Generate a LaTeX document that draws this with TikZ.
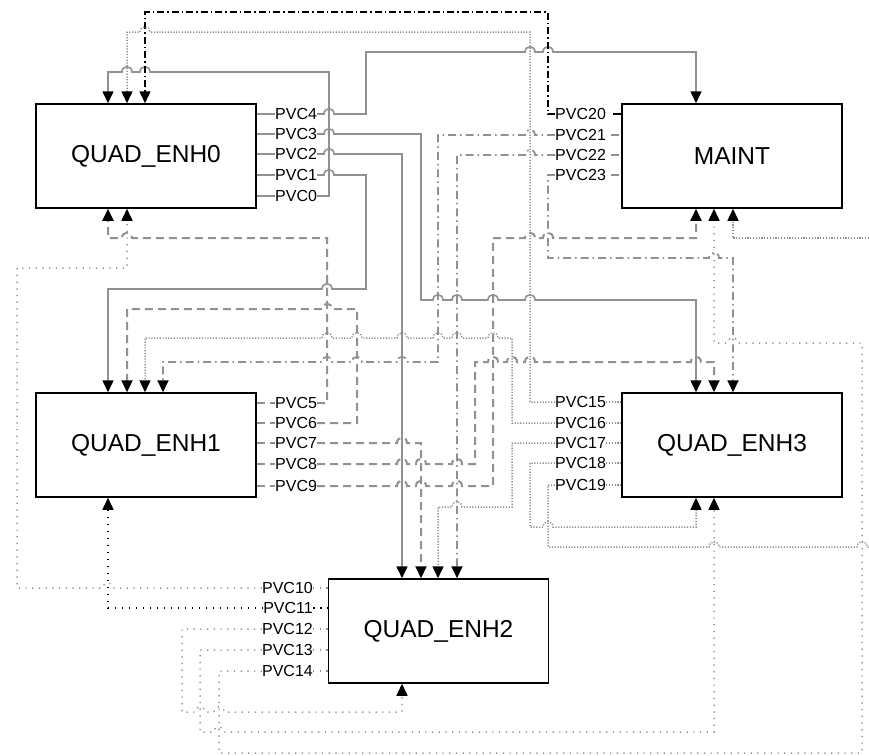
\documentclass[tikz,border=0pt]{standalone}
\usepackage{fontspec}
\setmainfont{Liberation Sans}
\usetikzlibrary{arrows.meta}
\definecolor{lg}{RGB}{145,145,145}
\newcommand{\hopR}[2]{-- ({#1-5},#2) .. controls ({#1-5},{#2-7}) and ({#1+5},{#2-7}) .. ({#1+5},#2)}
\newcommand{\hopL}[2]{-- ({#1+5},#2) .. controls ({#1+5},{#2-7}) and ({#1-5},{#2-7}) .. ({#1-5},#2)}
\begin{document}
\begin{tikzpicture}[x=1pt,y=-1pt,
  box/.style={draw=black,line width=1.5pt,minimum width=220pt,minimum height=104pt,inner sep=0pt,font=\fontsize{24.5}{26}\selectfont},
  lab/.style={inner sep=0pt,font=\fontsize{16}{17}\selectfont},
  tip/.style={-{Triangle[length=12pt,width=11pt,color=black]}},
  sol/.style={draw=lg,line width=1.6pt},
  dsh/.style={draw=lg,line width=2pt,dash pattern=on 8pt off 5pt},
  dashdotg/.style={draw=lg,line width=1.8pt,dash pattern=on 8pt off 4pt on 1.5pt off 4pt},
  dashdotk/.style={draw=black,line width=1.5pt,dash pattern=on 7pt off 3pt on 1.5pt off 3pt},
  dotd/.style={draw=lg,line width=1.5pt,dash pattern=on 1.2pt off 1.6pt},
  dots/.style={draw=lg,line width=1.5pt,dash pattern=on 1.2pt off 5.5pt},
  dotk/.style={draw=black,line width=1.5pt,dash pattern=on 1.5pt off 5.5pt},
  kline/.style={draw=black,line width=1.5pt}]
\useasboundingbox (0,0) rectangle (869,755);
% boxes
\node[box] (q0) at (146,156) {QUAD\_ENH0};
\node[box] (mt) at (732,156) {MAINT};
\node[box] (q1) at (146,445) {QUAD\_ENH1};
\node[box] (q3) at (732,445) {QUAD\_ENH3};
\node[box] (q2) at (438.5,631) {QUAD\_ENH2};
% labels ENH0
\node[lab,anchor=west] (p4) at (275,114) {PVC4};
\node[lab,anchor=west] (p3) at (275,134) {PVC3};
\node[lab,anchor=west] (p2) at (275,154) {PVC2};
\node[lab,anchor=west] (p1) at (275,175) {PVC1};
\node[lab,anchor=west] (p0) at (275,196) {PVC0};
% labels ENH1
\node[lab,anchor=west] (p5) at (275,403) {PVC5};
\node[lab,anchor=west] (p6) at (275,423) {PVC6};
\node[lab,anchor=west] (p7) at (275,443) {PVC7};
\node[lab,anchor=west] (p8) at (275,464) {PVC8};
\node[lab,anchor=west] (p9) at (275,486) {PVC9};
% labels ENH2
\node[lab,anchor=east] (p10) at (313,588) {PVC10};
\node[lab,anchor=east] (p11) at (313,608) {PVC11};
\node[lab,anchor=east] (p12) at (313,629) {PVC12};
\node[lab,anchor=east] (p13) at (313,650) {PVC13};
\node[lab,anchor=east] (p14) at (313,671) {PVC14};
% labels MAINT
\node[lab,anchor=west] (p20) at (555,114) {PVC20};
\node[lab,anchor=west] (p21) at (555,135) {PVC21};
\node[lab,anchor=west] (p22) at (555,155) {PVC22};
\node[lab,anchor=west] (p23) at (555,175) {PVC23};
% labels ENH3
\node[lab,anchor=west] (p15) at (555,402) {PVC15};
\node[lab,anchor=west] (p16) at (555,423) {PVC16};
\node[lab,anchor=west] (p17) at (555,443) {PVC17};
\node[lab,anchor=west] (p18) at (555,463) {PVC18};
\node[lab,anchor=west] (p19) at (555,485) {PVC19};
\coordinate (r1) at (869,238);
\coordinate (r2) at (869,547);
% stubs
\foreach \p in {p4,p3,p2,p1,p0}{\draw[sol] (q0.east |- \p.west) -- (\p.west);}
\foreach \p in {p5,p6,p7,p8,p9}{\draw[dsh] (q1.east |- \p.west) -- (\p.west);}
\foreach \p in {p10,p12,p13,p14}{\draw[dots] (\p.east) -- (q2.west |- \p.east);}
\draw[dotk] (p11.east) -- (q2.west |- p11.east);
\draw[kline] ([xshift=7pt]p20.east) -- (mt.west |- p20.east);
\foreach \p in {p21,p22,p23}{\draw[dashdotg] ([xshift=5pt]\p.east) -- (mt.west |- \p.east);}
\foreach \p in {p15,p16,p17,p18,p19}{\draw[dotd] (\p.east) -- (q3.west |- \p.east);}
% ENH0 outputs
\draw[sol,tip] (p4.east) \hopR{329}{114} -- (366,114) -- (366,52) \hopR{530}{52} \hopR{548}{52} -- (696,52) -- (696,0 |- mt.north);
\draw[sol,tip] (p3.east) \hopR{329}{134} -- (421,134) -- (421,300) \hopR{438}{300} \hopR{457}{300} \hopR{493}{300} \hopR{530}{300} -- (696,300) -- (696,0 |- q3.north);
\draw[sol,tip] (p2.east) \hopR{329}{154} -- (402,154) -- (402,0 |- q2.north);
\draw[sol,tip] (p1.east) \hopR{329}{175} -- (366,175) -- (366,289) \hopL{327}{289} -- (108,289) -- (108,0 |- q1.north);
\draw[sol,tip] (p0.east) -- (329,196) -- (329,72) \hopL{145}{72} \hopL{127}{72} -- (108,72) -- (108,0 |- q0.north);
% MAINT outputs
\draw[dashdotk,tip] (p20.west) -- (548,114) -- (548,12) -- (145,12) -- (145,0 |- q0.north);
\draw[dashdotg,tip] (p21.west) \hopL{530}{135} -- (438,135) -- (438,362) \hopL{402}{362} \hopL{357}{362} \hopL{327}{362} -- (163,362) -- (163,0 |- q1.north);
\draw[dashdotg,tip] (p22.west) \hopL{530}{155} -- (457,155) -- (457,0 |- q2.north);
\draw[dashdotg,tip] (p23.west) -- (548,175) -- (548,258) \hopR{714}{258} -- (733,258) -- (733,0 |- q3.north);
% ENH1 outputs
\draw[dsh,tip] (p5.east) -- (327,403) -- (327,238) \hopL{127}{238} -- (108,238) -- (108,0 |- q0.south);
\draw[dsh,tip] (p6.east) -- (357,423) -- (357,309) \hopL{327}{309} -- (127,309) -- (127,0 |- q1.north);
\draw[dsh,tip] (p7.east) \hopR{402}{443} -- (421,443) -- (421,0 |- q2.north);
\draw[dsh,tip] (p8.east) \hopR{402}{464} \hopR{421}{464} \hopR{457}{464} -- (475,464) -- (475,362) \hopR{493}{362} \hopR{512}{362} \hopR{530}{362} \hopR{696}{362} -- (714,362) -- (714,0 |- q3.north);
\draw[dsh,tip] (p9.east) \hopR{402}{486} \hopR{421}{486} \hopR{457}{486} -- (493,486) -- (493,238) \hopR{530}{238} \hopR{548}{238} -- (696,238) -- (696,0 |- mt.south);
% ENH3 outputs
\draw[dotd,tip] (p15.west) -- (530,402) -- (530,32) \hopL{145}{32} -- (127,32) -- (127,0 |- q0.north);
\draw[dotd,tip] (p16.west) -- (512,423) -- (512,338) \hopL{493}{338} \hopL{457}{338} \hopL{438}{338} \hopL{402}{338} \hopL{357}{338} \hopL{327}{338} -- (145,338) -- (145,0 |- q1.north);
\draw[dotd,tip] (p17.west) -- (512,443) -- (512,507) \hopL{457}{507} -- (438,507) -- (438,0 |- q2.north);
\draw[dotd,tip] (p18.west) -- (530,463) -- (530,527) \hopR{548}{527} -- (696,527) -- (696,0 |- q3.south);
\draw[dotd] (p19.west) -- (548,485) -- (548,547) \hopR{714}{547} \hopR{862}{547} -- (r2);
\draw[dotd,tip] (r1) -- (733,238) -- (733,0 |- mt.south);
% ENH2 outputs
\draw[dots,tip] (p10.west) \hopL{108}{588} -- (17,588) -- (17,268) -- (127,268) -- (127,0 |- q0.south);
\draw[dotk,tip] (p11.west) -- (108,608) -- (108,0 |- q1.south);
\draw[dots,tip] (p12.west) -- (182,629) -- (182,712) \hopR{200}{712} \hopR{219}{712} -- (402,712) -- (402,0 |- q2.south);
\draw[dots,tip] (p13.west) -- (200,650) -- (200,732) \hopR{219}{732} -- (714,732) -- (714,0 |- q3.south);
\draw[dots,tip] (p14.west) -- (219,671) -- (219,753) -- (862,753) -- (862,343) \hopL{733}{343} -- (714,343) -- (714,0 |- mt.south);
\end{tikzpicture}
\end{document}
